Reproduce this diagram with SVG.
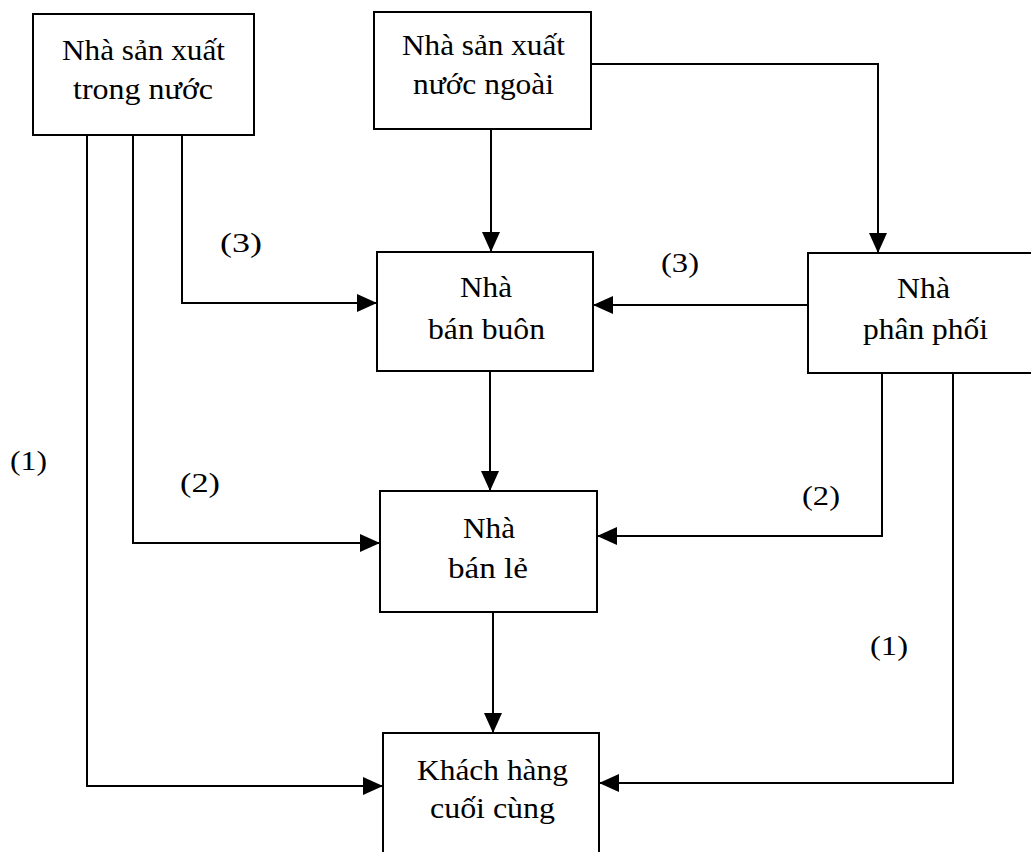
<svg xmlns="http://www.w3.org/2000/svg" width="1031" height="852" viewBox="0 0 1031 852">
<style>
.box{fill:#fff;stroke:#000;stroke-width:2}
.t{font-family:"Liberation Serif","Times New Roman",serif;font-size:30px;fill:#000}
.l{font-family:"Liberation Serif","Times New Roman",serif;font-size:28px;fill:#000}
.c{fill:none;stroke:#000;stroke-width:2}
</style>
<defs>
<marker id="arr" markerUnits="userSpaceOnUse" markerWidth="20" markerHeight="18" refX="20" refY="9" orient="auto">
<path d="M0,0 L20,9 L0,18 z" fill="#000"/>
</marker>
</defs>
<rect width="1031" height="852" fill="#fff"/>
<g id="connectors">
<path class="c" d="M87,135 V786 H383" marker-end="url(#arr)"/>
<path class="c" d="M133,135 V543 H380" marker-end="url(#arr)"/>
<path class="c" d="M182,135 V303 H377" marker-end="url(#arr)"/>
<path class="c" d="M491,129 V252" marker-end="url(#arr)"/>
<path class="c" d="M591,64 H878 V253" marker-end="url(#arr)"/>
<path class="c" d="M808,305 H593" marker-end="url(#arr)"/>
<path class="c" d="M490,371 V491" marker-end="url(#arr)"/>
<path class="c" d="M882,373 V536 H597" marker-end="url(#arr)"/>
<path class="c" d="M493,612 V733" marker-end="url(#arr)"/>
<path class="c" d="M953,373 V783 H599" marker-end="url(#arr)"/>
<text class="l" x="220" y="252" textLength="42" lengthAdjust="spacingAndGlyphs">(3)</text>
<text class="l" x="661" y="272" textLength="38" lengthAdjust="spacingAndGlyphs">(3)</text>
<text class="l" x="10" y="470" textLength="37" lengthAdjust="spacingAndGlyphs">(1)</text>
<text class="l" x="180" y="492" textLength="40" lengthAdjust="spacingAndGlyphs">(2)</text>
<text class="l" x="802" y="505" textLength="38" lengthAdjust="spacingAndGlyphs">(2)</text>
<text class="l" x="870" y="655" textLength="38" lengthAdjust="spacingAndGlyphs">(1)</text>
</g>
<g id="domestic">
<rect class="box" x="33" y="14" width="221" height="121"/>
<text class="t" x="62" y="60" textLength="163" lengthAdjust="spacingAndGlyphs">Nhà sản xuất</text>
<text class="t" x="73" y="99" textLength="140" lengthAdjust="spacingAndGlyphs">trong nước</text>
</g>
<g id="foreign">
<rect class="box" x="374" y="12" width="217" height="117"/>
<text class="t" x="402" y="55" textLength="163" lengthAdjust="spacingAndGlyphs">Nhà sản xuất</text>
<text class="t" x="413" y="94" textLength="141" lengthAdjust="spacingAndGlyphs">nước ngoài</text>
</g>
<g id="wholesaler">
<rect class="box" x="377" y="252" width="216" height="119"/>
<text class="t" x="460" y="297" textLength="52" lengthAdjust="spacingAndGlyphs">Nhà</text>
<text class="t" x="428" y="339" textLength="117" lengthAdjust="spacingAndGlyphs">bán buôn</text>
</g>
<g id="distributor">
<rect class="box" x="808" y="253" width="234" height="120"/>
<text class="t" x="897" y="298" textLength="53" lengthAdjust="spacingAndGlyphs">Nhà</text>
<text class="t" x="863" y="339" textLength="125" lengthAdjust="spacingAndGlyphs">phân phối</text>
</g>
<g id="retailer">
<rect class="box" x="380" y="491" width="217" height="121"/>
<text class="t" x="463" y="538" textLength="52" lengthAdjust="spacingAndGlyphs">Nhà</text>
<text class="t" x="448" y="578" textLength="80" lengthAdjust="spacingAndGlyphs">bán lẻ</text>
</g>
<g id="customer">
<rect class="box" x="383" y="733" width="216" height="130"/>
<text class="t" x="417" y="780" textLength="151" lengthAdjust="spacingAndGlyphs">Khách hàng</text>
<text class="t" x="430" y="818" textLength="125" lengthAdjust="spacingAndGlyphs">cuối cùng</text>
</g>
</svg>
